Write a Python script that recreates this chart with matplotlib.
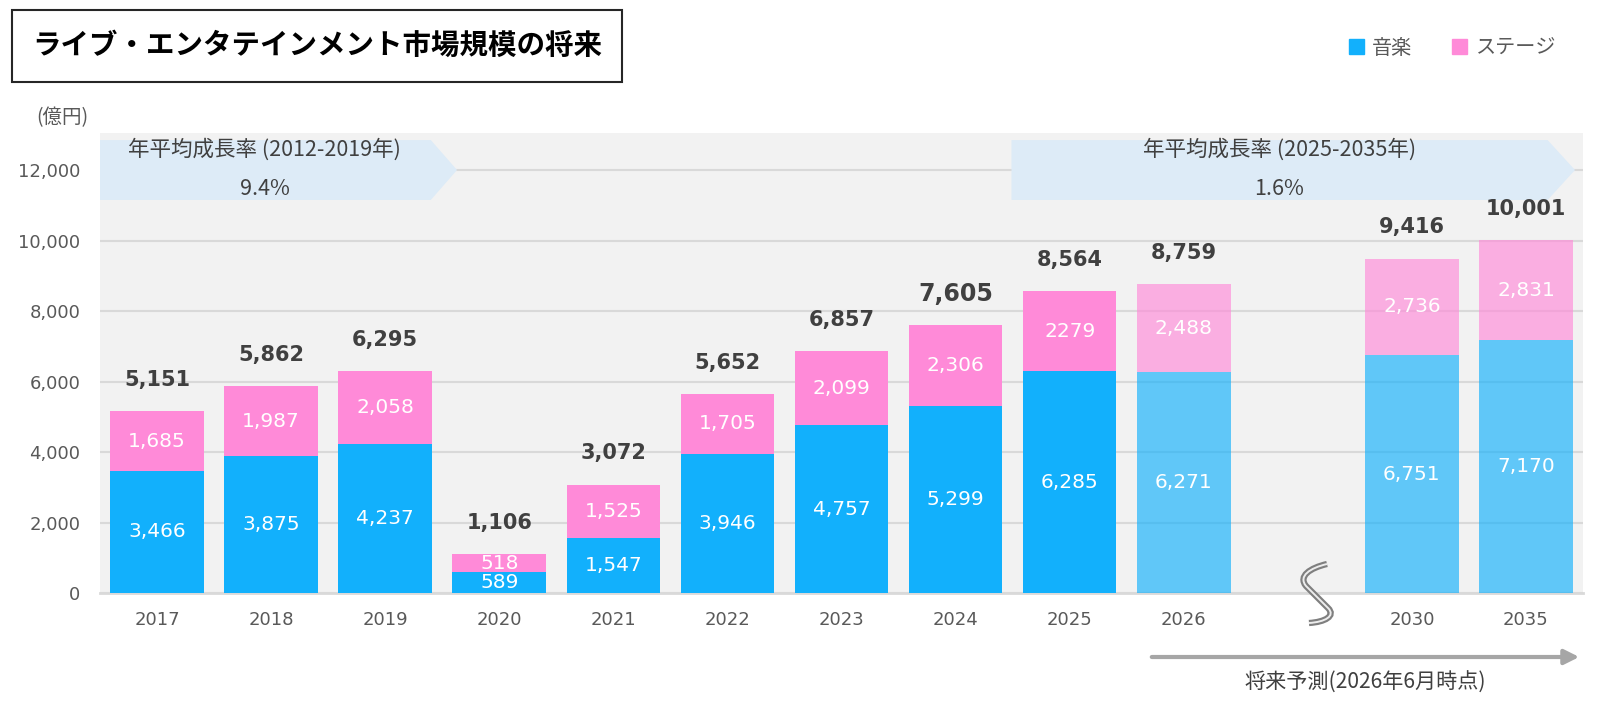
import numpy as np
import matplotlib.pyplot as plt
from matplotlib.colors import to_rgba
from matplotlib.patches import Polygon, Rectangle, FancyArrowPatch, PathPatch, Patch
from matplotlib.path import Path
from matplotlib.ticker import FuncFormatter

# データ (億円)
YEARS = ['2017', '2018', '2019', '2020', '2021', '2022', '2023', '2024',
         '2025', '2026', '2030', '2035']
MUSIC = [3466, 3875, 4237, 589, 1547, 3946, 4757, 5299, 6285, 6271, 6751, 7170]
STAGE = [1685, 1987, 2058, 518, 1525, 1705, 2099, 2306, 2279, 2488, 2736, 2831]
TOTALS = [5151, 5862, 6295, 1106, 3072, 5652, 6857, 7605, 8564, 8759, 9416, 10001]
STAGE_TEXT = ['1,685', '1,987', '2,058', '518', '1,525', '1,705', '2,099', '2,306',
              '2279', '2,488', '2,736', '2,831']
FORECAST_FROM = '2026'
GAP_AFTER = '2026'
CAGR_PAST = ('年平均成長率 (2012-2019年)', '9.4%')
CAGR_FUTURE = ('年平均成長率 (2025-2035年)', '1.6%')

BLUE = '#12B0FC'
PINK = '#FF8AD8'
JP = ['Noto Sans CJK JP', 'DejaVu Sans']
TXT = '#404040'
GREY = '#595959'

W_PX, H_PX = 1609, 706
fig = plt.figure(figsize=(W_PX / 100, H_PX / 100), dpi=100)
ax = fig.add_axes([100 / W_PX, 1 - 593 / H_PX, 1483 / W_PX, 460 / H_PX])
ax.set_facecolor('#F2F2F2')

n = len(YEARS)
idx = np.arange(n)
x = idx + (idx > YEARS.index(GAP_AFTER))
is_fc = idx >= YEARS.index(FORECAST_FROM)
music = np.array(MUSIC)
stage = np.array(STAGE)

c_music = [to_rgba(BLUE, 0.65 if f else 1) for f in is_fc]
c_stage = [to_rgba(PINK, 0.65 if f else 1) for f in is_fc]

ax.bar(x, music, 0.82, color=c_music, zorder=3)
ax.bar(x, stage, 0.82, bottom=music, color=c_stage, zorder=3)

for i in range(n):
    ax.text(x[i], music[i] / 2, f'{MUSIC[i]:,}', ha='center', va='center',
            color='white', fontsize=14.5, zorder=4)
    ax.text(x[i], music[i] + stage[i] / 2, STAGE_TEXT[i], ha='center', va='center',
            color='white', fontsize=14.5, zorder=4)
    size = 17 if YEARS[i] == '2024' else 15
    ax.annotate(f'{TOTALS[i]:,}', (x[i], music[i] + stage[i]), xytext=(0, 22.5),
                textcoords='offset points', ha='center', va='center',
                fontsize=size, fontweight='bold', color=TXT, zorder=4)

ax.set_xlim(-0.5, 12.5)
ax.set_ylim(0, 13050)
ax.set_xticks(x)
ax.set_xticklabels(YEARS)
ax.set_yticks(np.arange(0, 12001, 2000))
ax.yaxis.set_major_formatter(FuncFormatter(lambda v, p: f'{int(v):,}'))
ax.tick_params(axis='both', length=0, labelsize=13, labelcolor=GREY)
ax.tick_params(axis='y', pad=14)
ax.tick_params(axis='x', pad=13)
ax.grid(axis='y', color='#D9D9D9', lw=1.5, zorder=1)
ax.set_axisbelow(True)
for s in ['top', 'right', 'left']:
    ax.spines[s].set_visible(False)
ax.spines['bottom'].set_color('#D9D9D9')
ax.spines['bottom'].set_linewidth(2)

# 年平均成長率の矢印
def cagr_arrow(x0, x1, tip, texts):
    poly = Polygon([(x0, 11150), (x1, 11150), (tip, 12000), (x1, 12850), (x0, 12850)],
                   closed=True, fc='#DDEBF7', ec='none', zorder=2.5)
    ax.add_patch(poly)
    cx = (x0 + x1) / 2
    ax.text(cx, 12590, texts[0], ha='center', va='center', fontsize=15.5,
            color=TXT, family=JP, zorder=4)
    ax.text(cx, 11460, texts[1], ha='center', va='center', fontsize=15.5,
            color=TXT, family=JP, zorder=4)

cagr_arrow(-0.51, 2.4, 2.63, CAGR_PAST)
cagr_arrow(7.49, 12.19, 12.43, CAGR_FUTURE)

# 軸の省略記号
verts = [(10.256, 823), (10.107, 709), (10.001, 482), (10.072, 199),
         (10.265, -426),
         (10.335, -653), (10.238, -823), (10.098, -851)]
codes = [Path.MOVETO, Path.CURVE4, Path.CURVE4, Path.CURVE4, Path.LINETO,
         Path.CURVE4, Path.CURVE4, Path.CURVE4]
brk = Path(verts, codes)
ax.add_patch(PathPatch(brk, fill=False, ec='#7F7F7F', lw=4.5, clip_on=False,
                       zorder=6, capstyle='butt'))
ax.add_patch(PathPatch(brk, fill=False, ec='#EDEDED', lw=1.4, clip_on=False,
                       zorder=7, capstyle='butt'))

# タイトル
fig.add_artist(Rectangle((12 / W_PX, 1 - 82 / H_PX), 610 / W_PX, 72 / H_PX,
                         transform=fig.transFigure, fill=False, ec='#262626', lw=1.5))
fig.text(317 / W_PX, 1 - 46 / H_PX, 'ライブ・エンタテインメント市場規模の将来',
         ha='center', va='center', fontsize=20.5, fontweight='bold', color='black', family=JP)
fig.text(62 / W_PX, 1 - 118 / H_PX, '(億円)', ha='center', va='center',
         fontsize=14, color=GREY, family=JP)

# 凡例
handles = [Patch(color=BLUE, label='音楽'), Patch(color=PINK, label='ステージ')]
fig.legend(handles=handles, loc='center right', bbox_to_anchor=(1556 / W_PX, 1 - 48 / H_PX),
           ncol=2, frameon=False, handlelength=0.75, handleheight=0.75,
           handletextpad=0.4, columnspacing=2.0, borderpad=0, borderaxespad=0,
           prop={'family': JP, 'size': 14.5}, labelcolor=GREY)

# 将来予測
fig.add_artist(FancyArrowPatch((1149 / W_PX, 1 - 657 / H_PX), (1582 / W_PX, 1 - 657 / H_PX),
                               transform=fig.transFigure, arrowstyle='-|>',
                               mutation_scale=22, lw=3, color='#A6A6A6'))
fig.text(1365 / W_PX, 1 - 683 / H_PX, '将来予測(2026年6月時点)', ha='center', va='center',
         fontsize=15.2, color=TXT, family=JP)

fig.savefig('out.png', dpi=100)
